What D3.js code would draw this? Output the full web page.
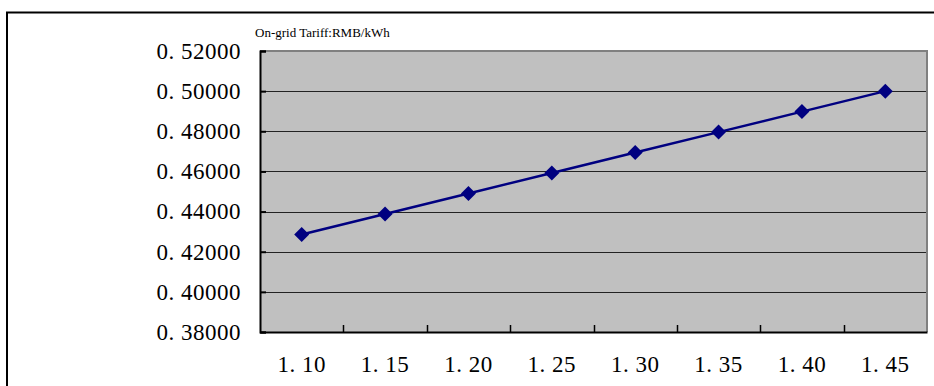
<!DOCTYPE html>
<html>
<head>
<meta charset="utf-8">
<script src="https://cdn.jsdelivr.net/npm/d3@7"></script>
<style>
  html, body { margin: 0; padding: 0; background: #fff; }
  svg { display: block; }
  .serif { font-family: "Liberation Serif", "DejaVu Serif", "Times New Roman", serif; }
</style>
</head>
<body>
<svg id="chart" width="934" height="386"></svg>
<script>
// Price ratio categories and on-grid tariff values (RMB/kWh)
const categories = ["1.10", "1.15", "1.20", "1.25", "1.30", "1.35", "1.40", "1.45"];
const tariffs = [0.4286, 0.4388, 0.4490, 0.4592, 0.4694, 0.4796, 0.4898, 0.5000];
const yTicks = [0.38, 0.40, 0.42, 0.44, 0.46, 0.48, 0.50, 0.52];
const unitLabel = "On-grid Tariff:RMB/kWh";

const svg = d3.select("#chart");
const W = 934, H = 386;
const plot = { left: 260, top: 51, right: 927, bottom: 332 };

// Outer frame (left and top edges visible)
svg.append("path")
  .attr("d", `M7,${H} L7,12.5 L${W},12.5`)
  .attr("fill", "none").attr("stroke", "#000").attr("stroke-width", 2);

const x = d3.scaleBand().domain(categories).range([plot.left, plot.right]).padding(0);
const y = d3.scaleLinear().domain([0.38, 0.52]).range([plot.bottom, plot.top]);

// Plot area background
svg.append("rect")
  .attr("x", plot.left).attr("y", plot.top)
  .attr("width", plot.right - plot.left).attr("height", plot.bottom - plot.top)
  .attr("fill", "#c0c0c0");

// Horizontal gridlines
svg.append("g").selectAll("line")
  .data(yTicks.slice(1, -1))
  .join("line")
  .attr("x1", plot.left).attr("x2", plot.right)
  .attr("y1", d => Math.round(y(d)) + 0.5).attr("y2", d => Math.round(y(d)) + 0.5)
  .attr("stroke", "#222").attr("stroke-width", 1);

// Top and right border of the plot area
svg.append("path")
  .attr("d", `M${plot.left},${plot.top} L${plot.right},${plot.top} L${plot.right},${plot.bottom}`)
  .attr("fill", "none").attr("stroke", "#808080").attr("stroke-width", 2);

// Y axis
const yAxis = svg.append("g")
  .attr("transform", `translate(${plot.left},0)`)
  .call(d3.axisLeft(y).tickValues(yTicks).tickSize(-6).tickPadding(19)
    .tickFormat(d => d3.format(".5f")(d).replace(".", ". ")));
yAxis.attr("font-family", null).attr("font-size", null).classed("serif", true);
yAxis.select(".domain").attr("stroke", "#000").attr("stroke-width", 2);
yAxis.selectAll(".tick line").attr("stroke", "#000").attr("stroke-width", 2);
yAxis.selectAll(".tick text")
  .attr("class", "serif")
  .style("font-size", "23px").attr("fill", "#000")
  .attr("letter-spacing", 0.5);

// X axis: ticks sit on category boundaries, labels in the middle of each category
const xAxis = svg.append("g")
  .attr("transform", `translate(0,${plot.bottom})`)
  .call(d3.axisBottom(x).tickSize(0).tickPadding(24).tickFormat(d => d.replace(".", ". ")));
xAxis.attr("font-family", null).attr("font-size", null).classed("serif", true);
xAxis.select(".domain").attr("stroke", "#000").attr("stroke-width", 2);
xAxis.selectAll(".tick text")
  .attr("class", "serif")
  .style("font-size", "23px").attr("fill", "#000")
  .attr("letter-spacing", 0.5);
svg.append("g").selectAll("line")
  .data(categories.slice(1))
  .join("line")
  .attr("x1", d => Math.round(x(d)) + 0.5).attr("x2", d => Math.round(x(d)) + 0.5)
  .attr("y1", plot.bottom).attr("y2", plot.bottom - 7)
  .attr("stroke", "#000").attr("stroke-width", 1.5);

// Unit label above the plot
svg.append("text")
  .attr("class", "serif")
  .attr("x", 255).attr("y", 37)
  .style("font-size", "13px").attr("fill", "#000")
  .text(unitLabel);

// Series line and diamond markers
const cx = d => x(d) + x.bandwidth() / 2;
const data = categories.map((c, i) => ({ c, v: tariffs[i] }));

svg.append("path")
  .datum(data)
  .attr("fill", "none").attr("stroke", "#000080").attr("stroke-width", 2.5)
  .attr("d", d3.line().x(d => cx(d.c)).y(d => y(d.v)));

svg.append("g").selectAll("path")
  .data(data)
  .join("path")
  .attr("transform", d => `translate(${cx(d.c)},${y(d.v)})`)
  .attr("d", "M0,-7.5 L7.5,0 L0,7.5 L-7.5,0 Z")
  .attr("fill", "#000080");
</script>
</body>
</html>
